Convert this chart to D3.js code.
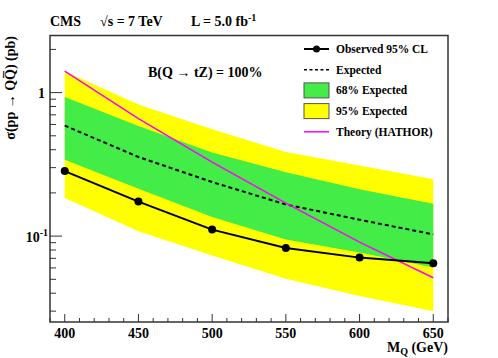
<!DOCTYPE html>
<html>
<head>
<meta charset="utf-8">
<script src="https://cdn.jsdelivr.net/npm/d3@7"></script>
<style>
body { margin: 0; background: #fff; }
text { font-family: "Liberation Serif", "DejaVu Serif", serif; font-weight: bold; }
</style>
</head>
<body>
<svg class="limit" width="498" height="358"></svg>
<script>
var mass = [400, 450, 500, 550, 600, 650];
var observed = [0.284, 0.174, 0.111, 0.0827, 0.0708, 0.0648];
var expected = [0.589, 0.356, 0.238, 0.166, 0.130, 0.1028];
var band68Hi = [0.932, 0.585, 0.383, 0.279, 0.212, 0.168];
var band68Lo = [0.341, 0.214, 0.136, 0.0948, 0.0769, 0.0605];
var band95Hi = [1.41, 0.825, 0.555, 0.385, 0.311, 0.249];
var band95Lo = [0.184, 0.108, 0.0733, 0.0505, 0.0382, 0.030];
var theory = [1.41, 0.659, 0.328, 0.170, 0.0908, 0.0513];
var xTicks = [400, 450, 500, 550, 600, 650];
var legendLabels = ["Observed 95% CL", "Expected", "68% Expected", "95% Expected", "Theory (HATHOR)"];

var axiscolor = "#333",
	greencolor = "#43ec47",
	yellowcolor = "#ffff00",
	theorycolor = "#ff00ff";

var svg = d3.select(".limit"),
	margin = {
		top: 35.5,
		right: 50,
		bottom: 36,
		left: 50
	},
	width = +svg.attr("width") - margin.left - margin.right,
	height = +svg.attr("height") - margin.top - margin.bottom,
	g = svg.append("g").attr("transform", "translate(" + margin.left + "," + margin.top + ")");

var x = d3.scaleLinear()
	.domain([390, 660])
	.range([0, width]);
var y = d3.scaleLog()
	.domain([0.0252, 2.5])
	.range([height, 0]);

var pts = mass.map(function(m, i) {
	return {
		m: m,
		obs: observed[i],
		exp: expected[i],
		g1: band68Hi[i],
		g0: band68Lo[i],
		y1: band95Hi[i],
		y0: band95Lo[i],
		th: theory[i]
	};
});

function band(lo, hi) {
	return d3.area()
		.x(function(d) { return x(d.m); })
		.y0(function(d) { return y(d[lo]); })
		.y1(function(d) { return y(d[hi]); });
}
function curve(key) {
	return d3.line()
		.x(function(d) { return x(d.m); })
		.y(function(d) { return y(d[key]); });
}

g.append("path")
	.datum(pts)
	.attr("fill", yellowcolor)
	.attr("d", band("y0", "y1"));
g.append("path")
	.datum(pts)
	.attr("fill", greencolor)
	.attr("d", band("g0", "g1"));
g.append("path")
	.datum(pts)
	.attr("fill", "none")
	.attr("stroke", "#000")
	.attr("stroke-width", 2)
	.attr("stroke-dasharray", "4,3")
	.attr("d", curve("exp"));
g.append("path")
	.datum(pts)
	.attr("fill", "none")
	.attr("stroke", theorycolor)
	.attr("stroke-width", 1.5)
	.attr("d", curve("th"));
g.append("path")
	.datum(pts)
	.attr("fill", "none")
	.attr("stroke", "#000")
	.attr("stroke-width", 2)
	.attr("d", curve("obs"));
g.selectAll(".dot")
	.data(pts)
	.enter().append("circle")
	.attr("class", "dot")
	.attr("cx", function(d) { return x(d.m); })
	.attr("cy", function(d) { return y(d.obs); })
	.attr("r", 4)
	.attr("fill", "#000");

// frame
g.append("rect")
	.attr("width", width)
	.attr("height", height)
	.attr("fill", "none")
	.attr("stroke", axiscolor)
	.attr("stroke-width", 1.5);

// x ticks, inside pointing up
var xMinor = d3.range(390, 661, 10);
g.selectAll(".xt")
	.data(xMinor)
	.enter().append("line")
	.attr("x1", function(d) { return x(d); })
	.attr("x2", function(d) { return x(d); })
	.attr("y1", height)
	.attr("y2", function(d) { return d % 50 === 0 ? height - 8 : height - 4; })
	.attr("stroke", axiscolor);
g.selectAll(".xl")
	.data(xTicks)
	.enter().append("text")
	.attr("x", function(d) { return x(d); })
	.attr("y", height + 15.5)
	.attr("text-anchor", "middle")
	.style("font-size", "14px")
	.text(function(d) { return d; });
var xl = g.append("text")
	.attr("x", width)
	.attr("y", height + 30)
	.attr("text-anchor", "end")
	.style("font-size", "14px");
xl.append("tspan").text("M");
xl.append("tspan").attr("dy", 3).style("font-size", "10px").text("Q");
xl.append("tspan").attr("dy", -3).text(" (GeV)");

// y ticks
var yMinor = [];
[0.01, 0.1, 1].forEach(function(dec) {
	for (var k = 1; k < 10; k++) {
		var v = dec * k;
		if (v >= 0.0252 && v <= 2.5) yMinor.push(v);
	}
});
g.selectAll(".yt")
	.data(yMinor)
	.enter().append("line")
	.attr("x1", 0)
	.attr("x2", function(d) { return (Math.abs(d - 0.1) < 1e-9 || Math.abs(d - 1) < 1e-9) ? 12 : 6; })
	.attr("y1", function(d) { return y(d); })
	.attr("y2", function(d) { return y(d); })
	.attr("stroke", axiscolor);
g.append("text")
	.attr("x", -5)
	.attr("y", y(1) + 5)
	.attr("text-anchor", "end")
	.style("font-size", "14px")
	.text("1");
var yl = g.append("text")
	.attr("x", -2)
	.attr("y", y(0.1) + 6)
	.attr("text-anchor", "end")
	.style("font-size", "14px");
yl.append("tspan").text("10");
yl.append("tspan").attr("dy", -6).style("font-size", "10px").text("-1");

svg.append("text")
	.attr("transform", "translate(15,36) rotate(-90)")
	.attr("text-anchor", "end")
	.style("font-size", "14px")
	.text("\u03c3(pp \u2192 QQ\u0305) (pb)");

// header
var hdr = svg.append("g").attr("transform", "translate(50,26)");
hdr.append("text").attr("x", 0).style("font-size", "14px").text("CMS");
hdr.append("text").attr("x", 50).style("font-size", "14px").text("\u221as = 7 TeV");
var lum = hdr.append("text").attr("x", 141).style("font-size", "14px");
lum.append("tspan").text("L = 5.0 fb");
lum.append("tspan").attr("dy", -5).style("font-size", "10px").text("-1");

g.append("text")
	.attr("x", 98)
	.attr("y", 41)
	.style("font-size", "14px")
	.text("B(Q \u2192 tZ) = 100%");

// legend
var lg = svg.append("g").attr("transform", "translate(304,49)");
var rowH = 20.7;
legendLabels.forEach(function(lab, i) {
	var r = lg.append("g").attr("transform", "translate(0," + (i * rowH) + ")");
	if (i === 0) {
		r.append("line").attr("x1", 0).attr("x2", 25).attr("stroke", "#000").attr("stroke-width", 2);
		r.append("circle").attr("cx", 12.5).attr("r", 3.5).attr("fill", "#000");
	} else if (i === 1) {
		r.append("line").attr("x1", 0).attr("x2", 25).attr("stroke", "#000").attr("stroke-width", 1.5).attr("stroke-dasharray", "3,2.5");
	} else if (i === 4) {
		r.append("line").attr("x1", 0).attr("x2", 25).attr("stroke", theorycolor).attr("stroke-width", 1.5);
	} else {
		r.append("rect")
			.attr("x", 0)
			.attr("y", -7.5)
			.attr("width", 25)
			.attr("height", 15)
			.attr("fill", i === 2 ? greencolor : yellowcolor)
			.attr("stroke", "#555");
	}
	r.append("text")
		.attr("x", 32)
		.attr("y", 4)
		.style("font-size", "11.5px")
		.text(lab);
});
</script>
</body>
</html>
